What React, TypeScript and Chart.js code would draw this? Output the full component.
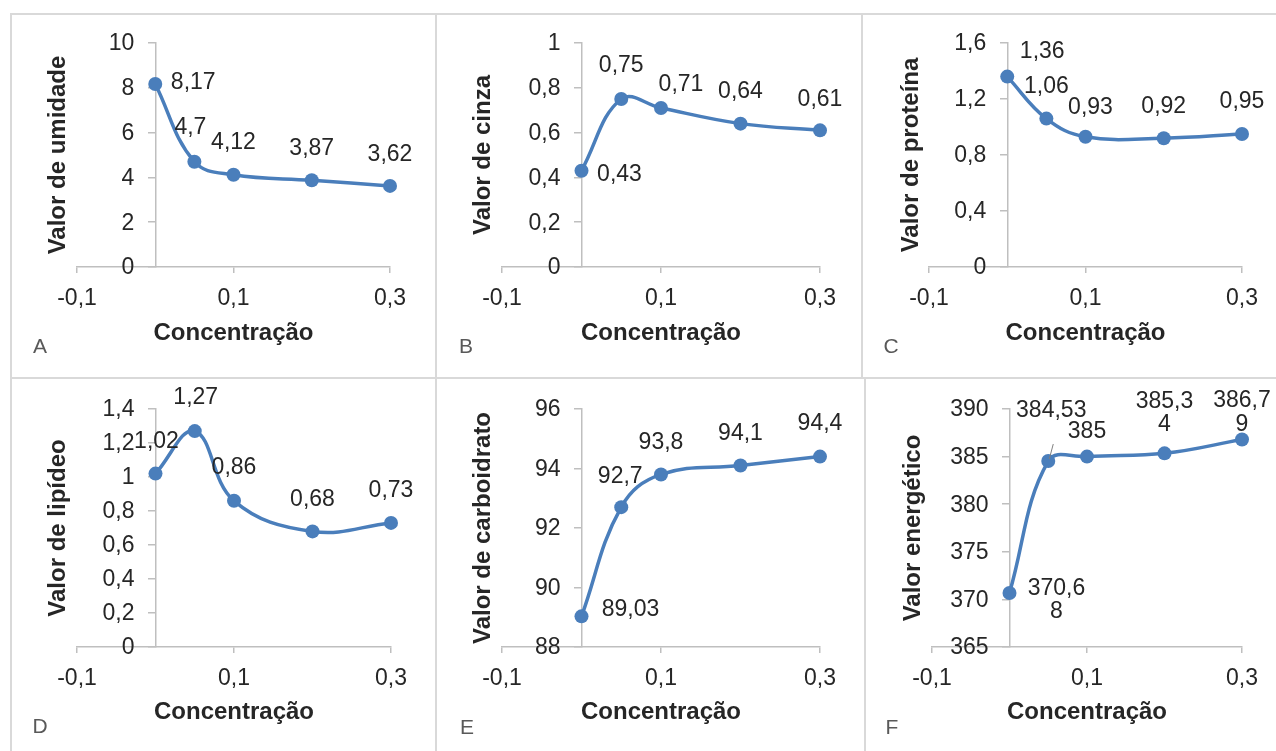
import React, { useEffect, useRef } from 'react';
import { Chart, registerables } from 'chart.js';

Chart.register(...registerables);

// ---------- data ----------
const concentracao = [0, 0.05, 0.1, 0.2, 0.3];
const umidade = [8.17, 4.7, 4.12, 3.87, 3.62];
const cinza = [0.43, 0.75, 0.71, 0.64, 0.61];
const proteina = [1.36, 1.06, 0.93, 0.92, 0.95];
const lipideo = [1.02, 1.27, 0.86, 0.68, 0.73];
const carboidrato = [89.03, 92.7, 93.8, 94.1, 94.4];
const energetico = [370.68, 384.53, 385, 385.34, 386.79];

const seriesList = [umidade, cinza, proteina, lipideo, carboidrato, energetico];
const panelLetters = ['A', 'B', 'C', 'D', 'E', 'F'];
const yTitles = [
  'Valor de umidade',
  'Valor de cinza',
  'Valor de proteína',
  'Valor de lipídeo',
  'Valor de carboidrato',
  'Valor energético',
];
const xTitle = 'Concentração';
const xMin = -0.1;
const xMax = 0.3;
const xStep = 0.2;
const yMins = [0, 0, 0, 0, 88, 365];
const yMaxs = [10, 1, 1.6, 1.4, 96, 390];
const ySteps = [2, 0.2, 0.4, 0.2, 2, 5];

// ---------- styles / layout ----------
const FONT = '"Liberation Sans", Arial, sans-serif';
const BLUE = '#4a7ebb';
const AXIS = '#bfbfbf';
const TEXT = '#262626';
const BORDER = '#d9d9d9';

type Layout = {
  canvas: [number, number, number, number];
  area: [number, number, number, number]; // L R T B
  yTitleX: number;
  xTitleY: number;
  letter: [number, number];
  offsets: [number, number][];
  wrap: number[];
  leader: number[];
};

const layouts: Layout[] = [
  {
    canvas: [13, 16, 423, 362], area: [77, 390, 43, 267], yTitleX: 58, xTitleY: 333, letter: [40, 347],
    offsets: [[38, -1], [-4, -34], [0, -32], [0, -32], [0, -31]], wrap: [0, 0, 0, 0, 0], leader: [],
  },
  {
    canvas: [438, 16, 424, 362], area: [502, 820, 43, 267], yTitleX: 483, xTitleY: 333, letter: [466, 347],
    offsets: [[38, 4], [0, -33], [20, -23], [0, -32], [0, -31]], wrap: [0, 0, 0, 0, 0], leader: [],
  },
  {
    canvas: [864, 16, 412, 362], area: [929, 1242, 43, 267], yTitleX: 911, xTitleY: 333, letter: [891, 347],
    offsets: [[35, -25], [0, -32], [5, -29], [0, -32], [0, -32]], wrap: [0, 0, 0, 0, 0], leader: [],
  },
  {
    canvas: [13, 380, 423, 371], area: [77, 391, 409, 647], yTitleX: 58, xTitleY: 712, letter: [40, 727],
    offsets: [[1, -32], [1, -33], [0, -33], [0, -32], [0, -32]], wrap: [0, 0, 0, 0, 0], leader: [],
  },
  {
    canvas: [438, 380, 427, 371], area: [502, 820, 409, 647], yTitleX: 483, xTitleY: 712, letter: [467, 728],
    offsets: [[49, -7], [-1, -31], [0, -32], [0, -32], [0, -33]], wrap: [0, 0, 0, 0, 0], leader: [],
  },
  {
    canvas: [867, 380, 409, 371], area: [932, 1242, 409, 647], yTitleX: 913, xTitleY: 712, letter: [892, 728],
    offsets: [[47, 7], [3, -50], [0, -25], [0, -40], [0, -27]], wrap: [5, 0, 0, 5, 5], leader: [1],
  },
];

const fmt = (v: number) => String(Math.round(v * 1000) / 1000).replace('.', ',');

const yTickLabelPlugin = {
  id: 'yTickLabels',
  afterDraw(chart: any) {
    const { ctx } = chart;
    const ys = chart.scales.y;
    const axisX = chart.scales.x.getPixelForValue(0);
    ctx.save();
    ctx.font = `23px ${FONT}`;
    ctx.fillStyle = TEXT;
    ctx.textAlign = 'right';
    ctx.textBaseline = 'middle';
    ys.ticks.forEach((t: any) => {
      ctx.fillText(fmt(t.value), axisX - 21, ys.getPixelForValue(t.value) + 1);
    });
    ctx.restore();
  },
};

const pointLabelPlugin = {
  id: 'pointLabels',
  afterDraw(chart: any, _args: any, opts: any) {
    const { ctx } = chart;
    const meta = chart.getDatasetMeta(0);
    const values: number[] = opts.values;
    ctx.save();
    ctx.font = `23px ${FONT}`;
    ctx.fillStyle = TEXT;
    ctx.textAlign = 'center';
    ctx.textBaseline = 'middle';
    const lh = 23.5;
    meta.data.forEach((pt: any, i: number) => {
      const s = fmt(values[i]);
      const w = opts.wrap[i];
      const lines = w > 0 && s.length > w ? [s.slice(0, w), s.slice(w)] : [s];
      const [dx, dy] = opts.offsets[i];
      const cx = pt.x + dx;
      const cy = pt.y + dy;
      lines.forEach((ln: string, k: number) => {
        ctx.fillText(ln, cx, cy + (k - (lines.length - 1) / 2) * lh);
      });
      if (opts.leader.includes(i)) {
        ctx.strokeStyle = '#7f7f7f';
        ctx.lineWidth = 1;
        ctx.beginPath();
        ctx.moveTo(pt.x + 5, pt.y - 17);
        ctx.lineTo(pt.x + 1, pt.y - 2);
        ctx.stroke();
      }
    });
    ctx.restore();
  },
};

function Panel({ idx }: { idx: number }) {
  const ref = useRef<HTMLCanvasElement>(null);
  const lay = layouts[idx];
  const [x0, y0, w, h] = lay.canvas;
  const [L, R, T, B] = lay.area;

  useEffect(() => {
    if (!ref.current) return;
    const values = seriesList[idx];
    const tickFont = { family: FONT, size: 23 };
    const titleFont = { family: FONT, size: 24, weight: 'bold' as const };
    const chart = new Chart(ref.current, {
      type: 'scatter',
      data: {
        datasets: [
          {
            data: concentracao.map((x, i) => ({ x, y: values[i] })),
            showLine: true,
            borderColor: BLUE,
            backgroundColor: BLUE,
            borderWidth: 3.5,
            pointRadius: 7,
            pointHoverRadius: 7,
            pointBorderWidth: 0,
            tension: 0.4,
            clip: false,
            yAxisID: 'y',
            xAxisID: 'x',
          } as any,
        ],
      },
      options: {
        animation: false,
        responsive: false,
        events: [],
        layout: { padding: { top: T - y0, right: x0 + w - R, bottom: 0, left: 0 } },
        plugins: {
          legend: { display: false },
          tooltip: { enabled: false },
          pointLabels: { values, offsets: lay.offsets, wrap: lay.wrap, leader: lay.leader },
        } as any,
        scales: {
          x: {
            type: 'linear',
            position: 'bottom',
            min: xMin,
            max: xMax,
            ticks: { stepSize: xStep, callback: (v: any) => fmt(Number(v)), font: tickFont, color: TEXT, padding: 12 },
            grid: { drawOnChartArea: false, drawTicks: true, tickLength: 6, color: AXIS, lineWidth: 1.5 },
            border: { color: AXIS, width: 1.5 },
            title: {
              display: true,
              text: xTitle,
              font: titleFont,
              color: TEXT,
              padding: { top: 0, bottom: y0 + h - lay.xTitleY - 14.4 },
            },
            afterFit: (s: any) => {
              s.height = y0 + h - B;
              s.paddingLeft = 0;
              s.paddingRight = 0;
            },
          },
          y: {
            type: 'linear',
            position: { x: 0 },
            min: yMins[idx],
            max: yMaxs[idx],
            ticks: { stepSize: ySteps[idx], display: false },
            grid: { drawOnChartArea: false, drawTicks: true, tickLength: 7, color: AXIS, lineWidth: 1.5 },
            border: { color: AXIS, width: 1.5 },
            afterFit: (s: any) => {
              s.paddingTop = 0;
              s.paddingBottom = 0;
            },
          },
          yt: {
            type: 'linear',
            axis: 'y',
            position: 'left',
            display: true,
            grid: { display: false },
            border: { display: false },
            ticks: { display: false },
            title: {
              display: true,
              text: yTitles[idx],
              font: titleFont,
              color: TEXT,
              padding: { top: lay.yTitleX - x0 - 14.4, bottom: 0 },
            },
            afterFit: (s: any) => {
              s.width = L - x0;
              s.paddingTop = 0;
              s.paddingBottom = 0;
            },
          },
        } as any,
      },
      plugins: [yTickLabelPlugin, pointLabelPlugin],
    } as any);
    return () => chart.destroy();
  }, [idx]);

  return (
    <>
      <canvas
        ref={ref}
        width={w}
        height={h}
        style={{ position: 'absolute', left: x0, top: y0, width: w, height: h }}
      />
      <div
        style={{
          position: 'absolute',
          left: lay.letter[0] - 20,
          top: lay.letter[1] - 13,
          width: 40,
          height: 26,
          lineHeight: '26px',
          textAlign: 'center',
          font: `21px ${FONT}`,
          color: '#595959',
        }}
      >
        {panelLetters[idx]}
      </div>
    </>
  );
}

const lineStyle = (left: number, top: number, width: number, height: number): React.CSSProperties => ({
  position: 'absolute',
  left,
  top,
  width,
  height,
  background: BORDER,
});

export default function App() {
  return (
    <div style={{ position: 'absolute', left: 0, top: 0, width: 1276, height: 751, background: '#fff', overflow: 'hidden' }}>
      {layouts.map((_, i) => (
        <Panel key={i} idx={i} />
      ))}
      <div style={lineStyle(11, 13, 1265, 2)} />
      <div style={lineStyle(11, 377, 1265, 2)} />
      <div style={lineStyle(10, 13, 2, 738)} />
      <div style={lineStyle(435, 13, 2, 738)} />
      <div style={lineStyle(861, 13, 2, 365)} />
      <div style={lineStyle(864, 378, 2, 373)} />
    </div>
  );
}
